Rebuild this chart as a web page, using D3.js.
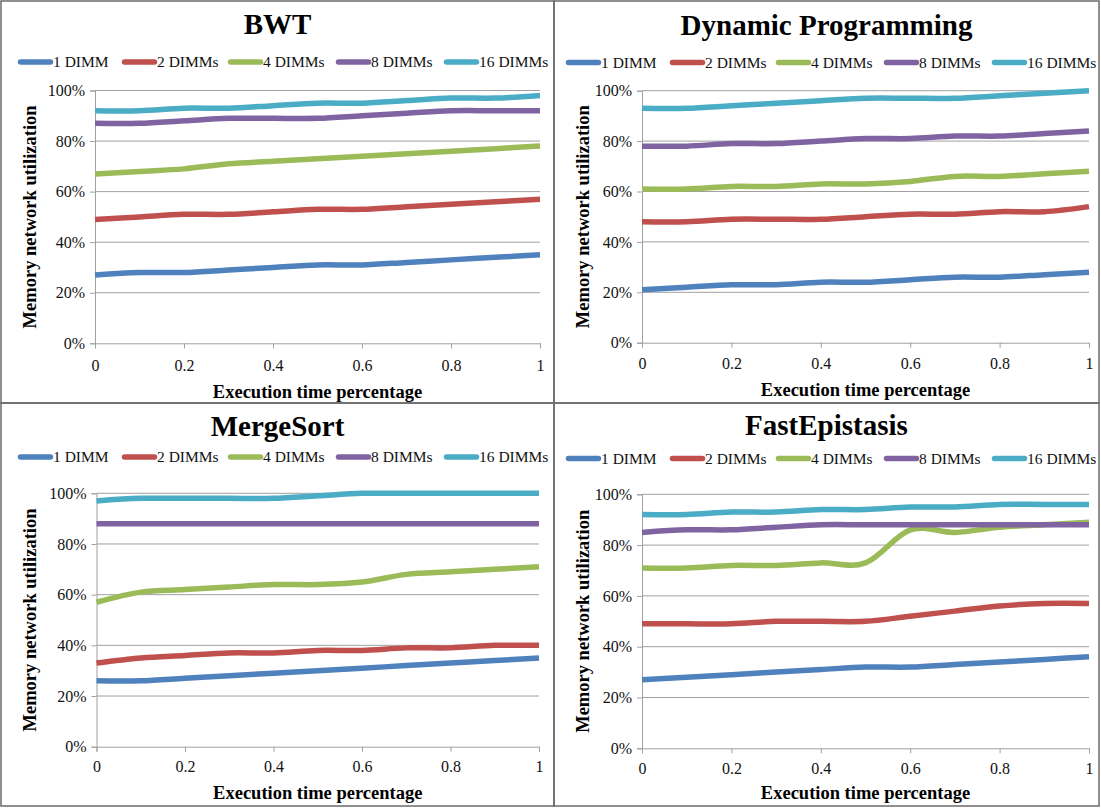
<!DOCTYPE html>
<html><head><meta charset="utf-8">
<script src="https://cdn.jsdelivr.net/npm/d3@7"></script>
<style>body{margin:0;background:#fff}svg{display:block}</style>
</head><body><svg id="c" width="1101" height="808"></svg>
<script>
const xs = [0,0.1,0.2,0.3,0.4,0.5,0.6,0.7,0.8,0.9,1];
const seriesNames = ["1 DIMM","2 DIMMs","4 DIMMs","8 DIMMs","16 DIMMs"];
const colors = ["#4F81BD","#C0504D","#9BBB59","#8064A2","#4BACC6"];
const yTicks = [0,20,40,60,80,100];
const xTicks = [0,0.2,0.4,0.6,0.8,1];

const bwt = [
  [27,28,28,29,30,31,31,32,33,34,35],
  [49,50,51,51,52,53,53,54,55,56,57],
  [67,68,69,71,72,73,74,75,76,77,78],
  [87,87,88,89,89,89,90,91,92,92,92],
  [92,92,93,93,94,95,95,96,97,97,98]
];
const dynProg = [
  [21,22,23,23,24,24,25,26,26,27,28],
  [48,48,49,49,49,50,51,51,52,52,54],
  [61,61,62,62,63,63,64,66,66,67,68],
  [78,78,79,79,80,81,81,82,82,83,84],
  [93,93,94,95,96,97,97,97,98,99,100]
];
const mergeSort = [
  [26,26,27,28,29,30,31,32,33,34,35],
  [33,35,36,37,37,38,38,39,39,40,40],
  [57,61,62,63,64,64,65,68,69,70,71],
  [88,88,88,88,88,88,88,88,88,88,88],
  [97,98,98,98,98,99,100,100,100,100,100]
];
const fastEpi = [
  [27,28,29,30,31,32,32,33,34,35,36],
  [49,49,49,50,50,50,52,54,56,57,57],
  [71,71,72,72,73,73,86,85,87,88,89],
  [85,86,86,87,88,88,88,88,88,88,88],
  [92,92,93,93,94,94,95,95,96,96,96]
];

const FONT = '"Liberation Serif","Times New Roman",Times,serif';
const legendOffsets = [0,104,210,318,426];
const panels = [
  {title:"BWT", data:bwt, box:[1,1,553,402], titleY:24, legendX:17, legendY:62, plot:[95,540,90.5,343.3], xlabY:365, xtitleY:392},
  {title:"Dynamic Programming", data:dynProg, box:[554,1,545,402], titleY:25, legendX:12, legendY:62.5, plot:[642,1089,90.7,342.7], xlabY:363, xtitleY:390},
  {title:"MergeSort", data:mergeSort, box:[1,403,553,403], titleY:426, legendX:17, legendY:457, plot:[96.5,539,493.3,746.7], xlabY:766, xtitleY:793},
  {title:"FastEpistasis", data:fastEpi, box:[554,403,545,403], titleY:425, legendX:12, legendY:458.5, plot:[642,1089,494.3,748.3], xlabY:768, xtitleY:793}
];

const svg = d3.select("#c").attr("font-family", FONT);
panels.forEach(p => {
  const [bx,by,bw,bh] = p.box;
  const g = svg.append("g");
  g.append("rect").attr("x",bx).attr("y",by).attr("width",bw).attr("height",bh)
    .attr("fill","none").attr("stroke","#6b6b6b").attr("stroke-width",1.5);
  g.append("text").attr("x",bx+bw/2).attr("y",p.titleY).attr("dy","0.35em").attr("font-family",FONT)
    .attr("text-anchor","middle").attr("font-weight","bold").attr("font-size",29).text(p.title);

  const [x0,x1,yTop,yBot] = p.plot;
  const x = d3.scaleLinear().domain([0,1]).range([x0,x1]);
  const y = d3.scaleLinear().domain([0,100]).range([yBot,yTop]);

  g.append("g").selectAll("line").data(yTicks.filter(t=>t>0)).join("line")
    .attr("x1",x0).attr("x2",x1).attr("y1",d=>y(d)).attr("y2",d=>y(d))
    .attr("stroke","#a0a0a0").attr("stroke-width",1);

  const ya = g.append("g").attr("transform",`translate(${x0},0)`)
    .call(d3.axisLeft(y).tickValues(yTicks).tickFormat(d=>d+"%").tickSize(5).tickPadding(5));
  ya.attr("font-family", FONT).attr("font-size",16);
  ya.select(".domain").attr("stroke","#a0a0a0");
  ya.selectAll(".tick line").attr("stroke","#a0a0a0");
  ya.selectAll("text").attr("fill","#111");

  const xa = g.append("g").attr("transform",`translate(0,${yBot})`)
    .call(d3.axisBottom(x).tickValues(xTicks).tickFormat(d3.format("")).tickSize(5).tickPadding(8));
  xa.attr("font-family", FONT).attr("font-size",16);
  xa.select(".domain").attr("stroke","#a0a0a0");
  xa.selectAll(".tick line").attr("stroke","#a0a0a0");
  xa.selectAll("text").attr("fill","#111")
    .attr("y", null).attr("dy","0.35em").attr("transform",`translate(0,${p.xlabY-yBot})`);

  g.append("text").attr("x",(x0+x1)/2).attr("y",p.xtitleY).attr("dy","0.35em").attr("font-family",FONT)
    .attr("text-anchor","middle").attr("font-weight","bold").attr("font-size",18.5).text("Execution time percentage");
  g.append("text").attr("transform",`translate(${bx+29},${(yTop+yBot)/2}) rotate(-90)`).attr("dy","0.35em").attr("font-family",FONT)
    .attr("text-anchor","middle").attr("font-weight","bold").attr("font-size",18.5).text("Memory network utilization");

  const line = d3.line().x((d,i)=>x(xs[i])).y(d=>y(d)).curve(d3.curveCardinal.tension(0));
  p.data.forEach((s,i)=>{
    g.append("path").attr("d",line(s)).attr("fill","none").attr("stroke",colors[i])
      .attr("stroke-width",5.5).attr("stroke-linejoin","round");
  });

  const lg = g.append("g");
  seriesNames.forEach((n,i)=>{
    const lx = bx + p.legendX + legendOffsets[i];
    lg.append("line").attr("x1",lx+2.5).attr("x2",lx+32.5).attr("y1",p.legendY).attr("y2",p.legendY)
      .attr("stroke",colors[i]).attr("stroke-width",5.5).attr("stroke-linecap","round");
    lg.append("text").attr("x",lx+35).attr("y",p.legendY).attr("dy","0.35em").attr("font-family",FONT)
      .attr("font-size",15.5).attr("fill","#111").text(n);
  });
});
</script></body></html>
